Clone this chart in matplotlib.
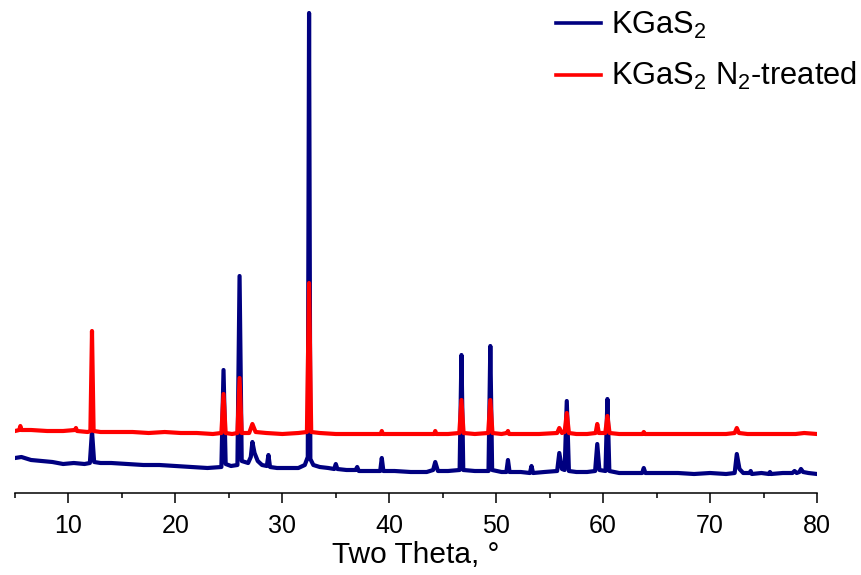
"""
XRD patterns of KGaS2 as prepared and after N2 treatment
"""

import matplotlib.pyplot as plt
import matplotlib.ticker as mticker

plt.rcParams['font.family'] = ['Liberation Sans', 'DejaVu Sans']
plt.rcParams['mathtext.fontset'] = 'custom'
plt.rcParams['mathtext.rm'] = 'Liberation Sans'
plt.rcParams['mathtext.it'] = 'Liberation Sans:italic'

# traced vertices of the two patterns (two theta, intensity in a.u.)
blue_x = [5.0, 5.6, 6.5, 7.5, 8.5, 9.5, 10.5, 11.5, 12.0, 12.2, 12.4, 13.0, 14.0, 15.5,
          17.0, 18.5, 20.0, 21.5, 23.0, 24.3, 24.5, 24.7, 25.2, 25.8, 26.0, 26.2,
          26.8, 27.05, 27.2, 27.4, 27.7, 28.1, 28.55, 28.7, 28.85, 29.5, 30.5, 31.5,
          32.1, 32.38, 32.5, 32.62, 32.9, 33.5, 34.3, 34.85, 35.0, 35.15, 36.0, 36.85,
          37.0, 37.15, 38.2, 39.15, 39.3, 39.45, 40.5, 42.0, 43.5, 44.1, 44.3, 44.55,
          45.5, 46.58, 46.75, 46.92, 48.0, 49.28, 49.45, 49.62, 50.5, 50.95, 51.1, 51.25,
          52.3, 53.15, 53.3, 53.45, 54.5, 55.7, 55.9, 56.15, 56.4, 56.6, 56.8, 57.5,
          58.5, 59.25, 59.45, 59.65, 60.22, 60.4, 60.58, 61.5, 62.8, 63.65, 63.8, 63.95,
          65.5, 67.0, 68.5, 70.0, 71.5, 72.3, 72.5, 72.75, 73.1, 73.7, 73.8, 73.9,
          74.8, 75.5, 75.6, 75.7, 76.8, 77.7, 77.9, 78.1, 78.35, 78.5, 78.7, 79.2, 80.0]
blue_y = [35, 36, 33, 32, 31, 29, 30, 29, 30, 62, 31, 30, 30, 29,
          28, 28, 27, 26, 25, 26, 123, 29, 27, 28, 217, 32,
          30, 36, 51, 40, 32, 28, 27, 38, 26, 25, 25, 25,
          28, 36, 480, 34, 28, 26, 25, 24, 29, 24, 23, 23,
          26, 22, 22, 22, 35, 22, 22, 21, 21, 23, 31, 22,
          22, 23, 138, 23, 22, 22, 147, 23, 21, 21, 33, 21,
          21, 20, 27, 20, 21, 22, 40, 24, 23, 92, 22, 21,
          21, 22, 49, 23, 22, 94, 22, 20, 20, 20, 25, 20,
          20, 20, 19, 20, 19, 20, 39, 24, 20, 20, 22, 19,
          20, 19, 21, 19, 20, 20, 22, 20, 21, 24, 21, 20, 19]

red_x = [5.0, 5.4, 5.5, 5.6, 6.5, 8.0, 9.5, 10.6, 10.7, 10.8, 11.8, 12.05, 12.2, 12.35,
         13.0, 14.5, 16.0, 17.5, 19.0, 20.5, 22.0, 23.5, 24.3, 24.5, 24.7, 25.3, 25.8,
         26.0, 26.2, 26.9, 27.2, 27.5, 28.5, 30.0, 31.5, 32.3, 32.5, 32.7, 33.5, 35.0,
         36.5, 38.0, 39.2, 39.3, 39.4, 40.5, 42.0, 43.5, 44.2, 44.3, 44.4, 45.5, 46.55,
         46.75, 46.95, 48.0, 49.25, 49.45, 49.65, 50.5, 51.0, 51.1, 51.2, 52.5, 54.0,
         55.7, 55.9, 56.15, 56.4, 56.6, 56.8, 57.5, 58.5, 59.3, 59.45, 59.6, 60.2, 60.4,
         60.6, 61.5, 63.0, 63.7, 63.8, 63.9, 65.5, 67.0, 68.5, 70.0, 71.5, 72.3, 72.5,
         72.7, 73.5, 75.0, 76.5, 78.0, 78.8, 80.0]
red_y = [62, 63, 67, 63, 63, 62, 62, 63, 65, 62, 61, 62, 162, 62,
         61, 61, 61, 60, 61, 60, 60, 59, 60, 99, 60, 59, 60,
         115, 60, 60, 69, 61, 60, 59, 60, 61, 210, 61, 60, 59,
         59, 59, 59, 62, 59, 59, 59, 59, 59, 62, 59, 59, 60,
         93, 60, 59, 60, 93, 60, 59, 60, 62, 59, 59, 59,
         60, 65, 60, 61, 80, 60, 59, 59, 60, 69, 60, 60, 77,
         60, 59, 59, 59, 61, 59, 59, 59, 59, 59, 59, 60, 65,
         60, 59, 59, 59, 59, 60, 59]

series_labels = [r'KGaS$_\mathrm{2}$', r'KGaS$_\mathrm{2}$ N$_\mathrm{2}$-treated']
series_colors = ['#000080', '#ff0000']


fig = plt.figure(figsize=(8.62, 5.75), dpi=100)
ax = fig.add_axes([15 / 862, 82 / 575, 802 / 862, 493 / 575])

ax.plot(blue_x, blue_y, color=series_colors[0], lw=3.0, solid_joinstyle='round',
        label=series_labels[0])
ax.plot(red_x, red_y, color=series_colors[1], lw=3.0, solid_joinstyle='round',
        label=series_labels[1])

ax.set_xlim(5, 80)
ax.set_ylim(0, 493)
ax.xaxis.set_major_locator(mticker.MultipleLocator(10))
ax.xaxis.set_minor_locator(mticker.MultipleLocator(5))
ax.tick_params(axis='x', which='major', direction='out', length=7.2, width=1.1,
               labelsize=18, pad=8)
ax.tick_params(axis='x', which='minor', direction='out', length=3.6, width=1.1)
ax.set_yticks([])
for side in ['left', 'top', 'right']:
    ax.spines[side].set_visible(False)
ax.spines['bottom'].set_linewidth(1.1)
ax.set_xlabel('Two Theta, °', fontsize=21.5, labelpad=2)

leg = ax.legend(loc='upper left', bbox_to_anchor=(553 / 862, 1 - 7 / 575),
                bbox_transform=fig.transFigure,
                frameon=False, fontsize=22.2, handlelength=1.45, handletextpad=0.33,
                labelspacing=0.62, borderaxespad=0, borderpad=0.1)
for line in leg.get_lines():
    line.set_linewidth(2.6)

fig.savefig('out.png', dpi=100)
